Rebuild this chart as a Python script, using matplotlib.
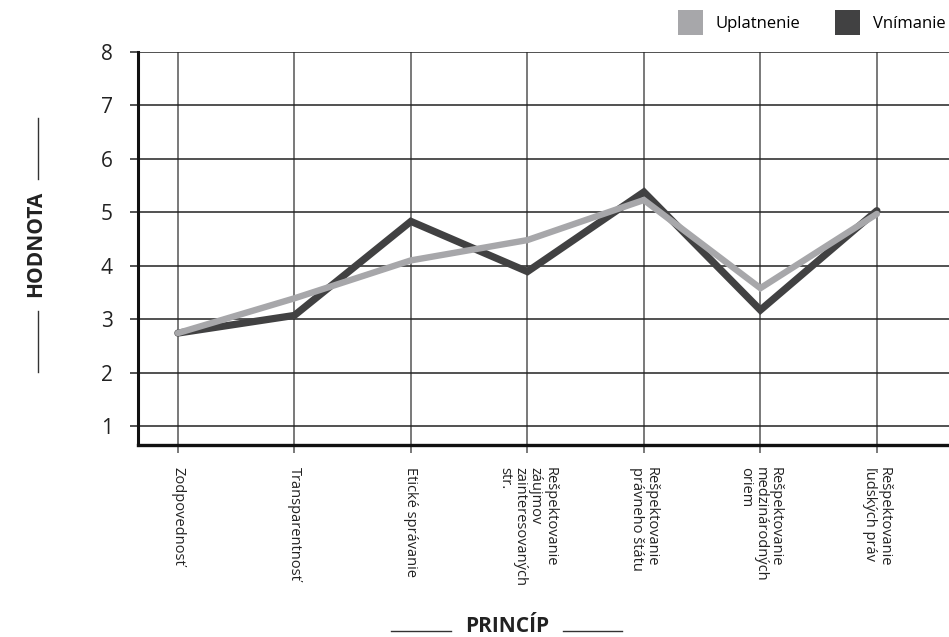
import matplotlib
matplotlib.use("Agg")
import matplotlib.pyplot as plt
from matplotlib.patches import Patch
from matplotlib.lines import Line2D

plt.rcParams['font.family'] = ['Open Sans', 'DejaVu Sans']

principles = [
    "Zodpovednosť",
    "Transparentnosť",
    "Etické správanie",
    "Rešpektovanie\nzáujmov\nzainteresovaných\nstr.",
    "Rešpektovanie\nprávneho štátu",
    "Rešpektovanie\nmedzinárodných\noriem",
    "Rešpektovanie\nľudských práv",
]
vnimanie = [2.74, 3.07, 4.83, 3.89, 5.38, 3.17, 5.03]
uplatnenie = [2.74, 3.39, 4.10, 4.48, 5.23, 3.58, 4.97]
y_ticks = [1, 2, 3, 4, 5, 6, 7, 8]

W, H = 949, 637
fig = plt.figure(figsize=(W / 100, H / 100), dpi=100)
ax = fig.add_axes([137.7 / W, 1 - 445 / H, 1 - 137.7 / W, (445 - 52) / H])

x = list(range(len(principles)))
dark = "#414142"
light = "#a7a7aa"
ax.plot(x, vnimanie, color=dark, lw=5.2, solid_joinstyle="miter",
        solid_capstyle="round", zorder=3)
ax.plot(x, uplatnenie, color=light, lw=4.6, solid_joinstyle="miter",
        solid_capstyle="round", zorder=4)

ax.set_xlim(-0.345, -0.345 + (W - 137.7) / 116.5)
ax.set_ylim(0.645, 8)
ax.set_yticks(y_ticks)
ax.set_xticks(x)
ax.set_xticklabels(principles, rotation=-90, fontsize=10.5, va="top",
                   ha="center", linespacing=1.0, multialignment="left")

ax.grid(True, axis="y", color="#222222", lw=1.1)
ax.grid(True, axis="x", color="#555555", lw=1.1)
ax.set_axisbelow(True)

for s in ("top", "right"):
    ax.spines[s].set_visible(False)
ax.spines["left"].set_linewidth(2.2)
ax.spines["bottom"].set_linewidth(2.4)
ax.spines["left"].set_color("#111111")
ax.spines["bottom"].set_color("#111111")

ax.tick_params(axis="y", length=6, width=1.1, color="#222222",
               labelsize=15, pad=12, labelcolor="#222222")
ax.tick_params(axis="x", length=6, width=1.1, color="#555555",
               pad=10, labelcolor="#222222")

# axis titles with flanking rules
fig.text(36 / W, 1 - 244 / H, "HODNOTA", rotation=90, ha="center",
         va="center", fontsize=15, fontweight="bold", color="#222222")
fig.add_artist(Line2D([38 / W, 38 / W], [1 - 118 / H, 1 - 179 / H],
                      color="#333333", lw=1))
fig.add_artist(Line2D([38 / W, 38 / W], [1 - 311 / H, 1 - 372 / H],
                      color="#333333", lw=1))

fig.text(507 / W, 1 - 626 / H, "PRINCÍP", ha="center", va="center",
         fontsize=15, fontweight="bold", color="#222222")
fig.add_artist(Line2D([391 / W, 451 / W], [1 - 631 / H, 1 - 631 / H],
                      color="#333333", lw=1))
fig.add_artist(Line2D([563 / W, 622 / W], [1 - 631 / H, 1 - 631 / H],
                      color="#333333", lw=1))

handles = [Patch(facecolor=light, edgecolor="none", label="Uplatnenie"),
           Patch(facecolor=dark, edgecolor="none", label="Vnímanie")]
fig.legend(handles=handles, loc="upper left", ncol=2, frameon=False,
           bbox_to_anchor=(673 / W, 1 - 5 / H), fontsize=12,
           handlelength=1.5, handleheight=1.9, handletextpad=0.75,
           columnspacing=2.1, borderaxespad=0, borderpad=0.3)

fig.savefig("out.png", dpi=100)
